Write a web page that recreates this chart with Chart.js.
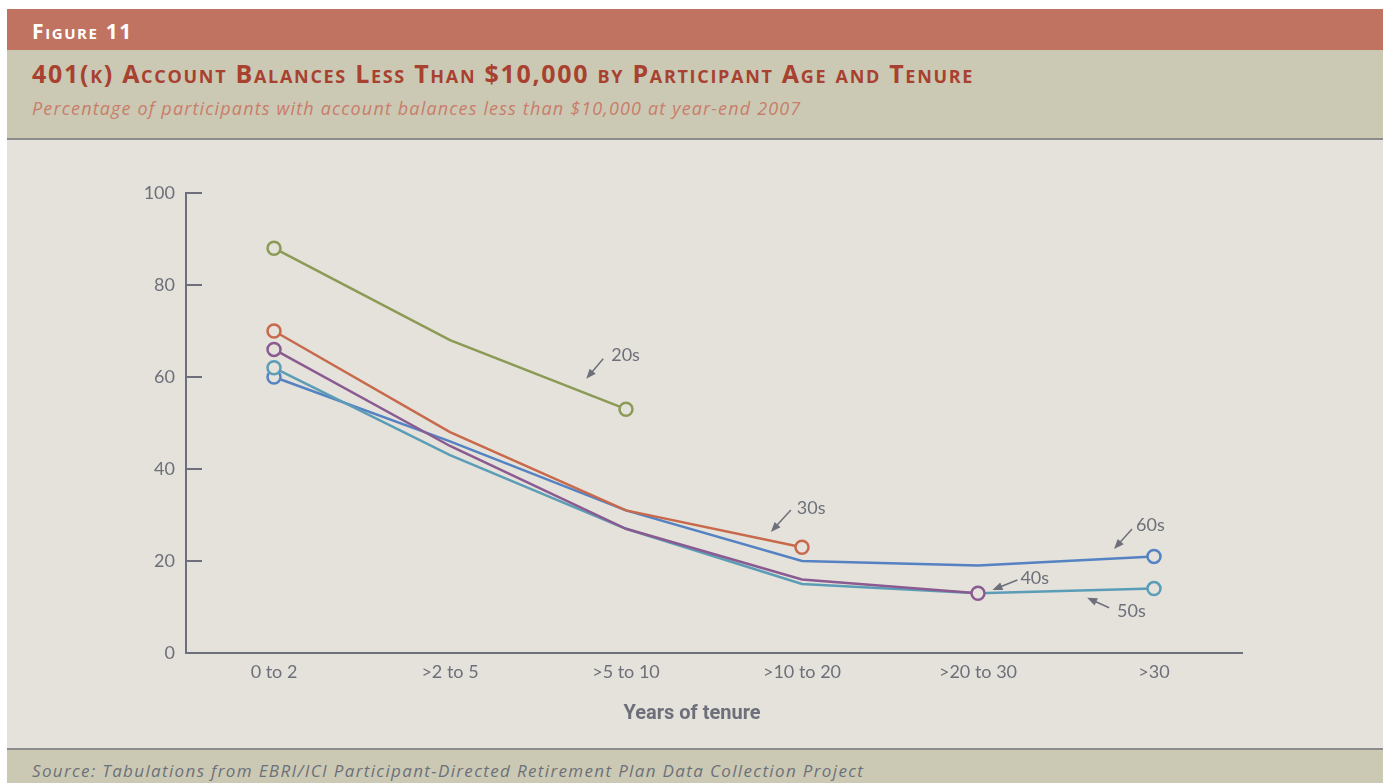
<!DOCTYPE html>
<html>
<head>
<meta charset="utf-8">
<script src="https://cdn.jsdelivr.net/npm/chart.js@4.4.1/dist/chart.umd.min.js"></script>
<style>
  body { margin: 0; background: #fff; width: 1390px; height: 783px; overflow: hidden; position: relative; }
  .band { position: absolute; left: 7px; width: 1376px; }
  #fig { top: 9px; height: 41px; background: #c07360; }
  #head { top: 50px; height: 88px; background: #cbc9b4; }
  #line1 { top: 138px; height: 2px; background: #8b8d8d; }
  #plot { top: 140px; height: 608px; background: #e4e2da; }
  #line2 { top: 748px; height: 2px; background: #8b8d8d; }
  #foot { top: 750px; height: 33px; background: #cbc9b4; }
  .txt { position: absolute; white-space: nowrap; }
  #figTxt { left: 25px; top: 8px; color: #fff; font: bold 21px "Open Sans", sans-serif; font-variant: small-caps; letter-spacing: 1.6px; }
  #title { left: 25px; top: 6px; color: #a8412f; font: bold 25px "Open Sans", sans-serif; font-variant: small-caps; letter-spacing: 1.7px; }
  #sub { left: 25px; top: 46px; color: #c97d6a; font: italic 18px "Open Sans", sans-serif; letter-spacing: 1.15px; }
  #src { left: 25px; top: 9px; color: #6d707a; font: italic 17px "Open Sans", sans-serif; letter-spacing: 1.35px; }
  #chart { position: absolute; left: 0; top: 0; }
</style>
</head>
<body>
<div class="band" id="fig"><div class="txt" id="figTxt">Figure 11</div></div>
<div class="band" id="head">
  <div class="txt" id="title">401(k) Account Balances Less Than $10,000 by Participant Age and Tenure</div>
  <div class="txt" id="sub">Percentage of participants with account balances less than $10,000 at year-end 2007</div>
</div>
<div class="band" id="line1"></div>
<div class="band" id="plot"><canvas id="chart" width="1376" height="608"></canvas></div>
<div class="band" id="line2"></div>
<div class="band" id="foot"><div class="txt" id="src">Source: Tabulations from EBRI/ICI Participant-Directed Retirement Plan Data Collection Project</div></div>

<script>
// tenure categories and percentages per age group
const tenure = ["0 to 2", ">2 to 5", ">5 to 10", ">10 to 20", ">20 to 30", ">30"];
const age20s = [88, 68, 53, null, null, null];
const age30s = [70, 48, 31, 23, null, null];
const age40s = [66, 45, 27, 16, 13, null];
const age50s = [62, 43, 27, 15, 13, 14];
const age60s = [60, 46, 31, 20, 19, 21];
const yTicks = [0, 20, 40, 60, 80, 100];
const xTitle = "Years of tenure";

const bg = "#e4e2da";
const grey = "#6d707a";
const tickFont = { family: "Lato, 'Open Sans', sans-serif", size: 18 };

// circles only at the first and last value of each series
function endMarkers(values) {
  let last = -1;
  values.forEach((v, i) => { if (v !== null) last = i; });
  return values.map((v, i) => (i === 0 || i === last) ? 6.5 : 0);
}

function series(label, values, color) {
  return {
    label: label,
    data: values,
    borderColor: color,
    borderWidth: 2.5,
    pointRadius: endMarkers(values),
    pointHoverRadius: endMarkers(values),
    pointBorderWidth: 2.5,
    pointBackgroundColor: bg,
    pointBorderColor: color,
    tension: 0,
    spanGaps: false
  };
}

// arrow labels, heads placed in data space (category index, percent)
const notes = [
  { text: "20s", x: 1.774, y: 59.6, dx: 17, dy: -20, tx: 25, ty: -24 },
  { text: "30s", x: 2.823, y: 26.3, dx: 20, dy: -22, tx: 26, ty: -24 },
  { text: "60s", x: 4.773, y: 22.6, dx: 18, dy: -20, tx: 22, ty: -24 },
  { text: "40s", x: 4.082, y: 13.7, dx: 25, dy: -10, tx: 28, ty: -12 },
  { text: "50s", x: 4.620, y: 12.0, dx: 22, dy: 10, tx: 30, ty: 13 }
];

const extras = {
  id: "extras",
  afterDatasetsDraw(chart) {
    const ctx = chart.ctx;
    const xs = chart.scales.x, ys = chart.scales.y;
    const area = chart.chartArea;
    ctx.save();
    ctx.strokeStyle = grey;
    ctx.lineWidth = 2;
    // inward tick marks on the value axis
    yTicks.forEach(t => {
      if (t === 0) return;
      const py = Math.round(ys.getPixelForValue(t));
      ctx.beginPath();
      ctx.moveTo(area.left, py);
      ctx.lineTo(area.left + 16, py);
      ctx.stroke();
    });
    // arrows with age labels
    ctx.fillStyle = grey;
    ctx.lineWidth = 1.5;
    ctx.font = "18px Lato, 'Open Sans', sans-serif";
    ctx.textBaseline = "middle";
    ctx.textAlign = "left";
    notes.forEach(n => {
      const hx = xs.getPixelForValue(n.x), hy = ys.getPixelForValue(n.y);
      const tx = hx + n.dx, ty = hy + n.dy;
      const ang = Math.atan2(hy - ty, hx - tx);
      ctx.beginPath();
      ctx.moveTo(tx, ty);
      ctx.lineTo(hx - 6 * Math.cos(ang), hy - 6 * Math.sin(ang));
      ctx.stroke();
      ctx.beginPath();
      ctx.moveTo(hx, hy);
      ctx.lineTo(hx - 10 * Math.cos(ang) + 4 * Math.sin(ang), hy - 10 * Math.sin(ang) - 4 * Math.cos(ang));
      ctx.lineTo(hx - 10 * Math.cos(ang) - 4 * Math.sin(ang), hy - 10 * Math.sin(ang) + 4 * Math.cos(ang));
      ctx.closePath();
      ctx.fill();
      ctx.fillText(n.text, hx + n.tx, hy + n.ty);
    });
    // axis title, set a little left of the axis centre as in the print
    ctx.font = "bold 20px Roboto, sans-serif";
    ctx.textAlign = "center";
    ctx.fillText(xTitle, (area.left + area.right) / 2 - 22, area.bottom + 61);
    ctx.restore();
  }
};

new Chart("chart", {
  type: "line",
  data: {
    labels: tenure,
    datasets: [
      series("20s", age20s, "#8b9a55"),
      series("30s", age30s, "#c8694b"),
      series("40s", age40s, "#8a5a90"),
      series("50s", age50s, "#5b9db7"),
      series("60s", age60s, "#5582c3")
    ]
  },
  options: {
    responsive: false,
    animation: false,
    events: [],
    layout: { padding: { left: 119, right: 141, top: 53, bottom: 0 } },
    plugins: {
      legend: { display: false },
      tooltip: { enabled: false }
    },
    scales: {
      x: {
        offset: true,
        grid: { display: false, drawTicks: false },
        border: { display: true, color: grey, width: 2 },
        ticks: { color: grey, font: tickFont, padding: 8, maxRotation: 0 },
        afterFit(scale) { scale.height = 95; }
      },
      y: {
        min: 0,
        max: 100,
        afterBuildTicks(scale) { scale.ticks = yTicks.map(v => ({ value: v })); },
        grid: { display: false, drawTicks: false },
        border: { display: true, color: grey, width: 2 },
        ticks: { color: grey, font: tickFont, padding: 11 },
        afterFit(scale) { scale.width = 60; }
      }
    }
  },
  plugins: [extras]
});
</script>
</body>
</html>
